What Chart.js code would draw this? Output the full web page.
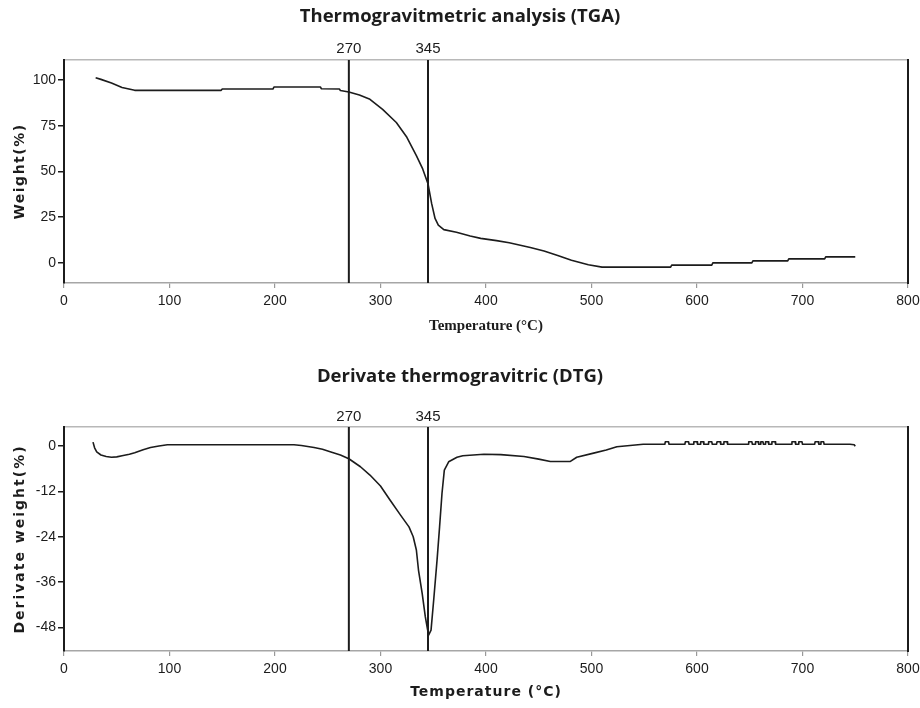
<!DOCTYPE html>
<html>
<head>
<meta charset="utf-8">
<script src="https://cdn.jsdelivr.net/npm/chart.js@4"></script>
<style>
  html, body { margin: 0; padding: 0; background: #fff; }
  .box { position: absolute; left: 0; width: 920px; }
  #tgaBox { top: 0; height: 345px; }
  #dtgBox { top: 345px; height: 363px; }
</style>
</head>
<body>
<div class="box" id="tgaBox"><canvas id="tgaChart"></canvas></div>
<div class="box" id="dtgBox"><canvas id="dtgChart"></canvas></div>
<script>
// axis ticks
const X_TICKS = [0, 100, 200, 300, 400, 500, 600, 700, 800];
const MARKERS = [270, 345];
const TGA_Y_TICKS = [0, 25, 50, 75, 100];
const DTG_Y_TICKS = [0, -12, -24, -36, -48];

// TGA curve (temperature in °C, weight in %)
const TGA_TEMP = [30, 35, 45, 55, 67, 149, 150, 198, 199, 243,
                  244, 261, 262, 270, 280, 290, 302, 315, 325, 334,
                  340, 345, 348.5, 351.7, 354.8, 360, 372, 385, 395, 410,
                  422, 442, 455, 468, 481, 497, 510, 575, 576, 614,
                  615, 652, 653, 686, 687, 721, 722, 750];
const TGA_WEIGHT = [101.3, 100.4, 98.4, 96.0, 94.4, 94.4, 95.1, 95.1, 96.2, 96.2,
                    95.3, 95.1, 94.3, 93.5, 91.8, 89.5, 84.0, 76.8, 68.7, 58.7,
                    51.4, 43.3, 32.4, 24.3, 20.7, 18.2, 16.8, 14.7, 13.4, 12.2,
                    11.0, 8.4, 6.5, 4.1, 1.5, -1.0, -2.3, -2.3, -1.2, -1.2,
                    0.0, 0.0, 1.1, 1.1, 2.2, 2.2, 3.3, 3.3];

// DTG curve (temperature in °C, derivative weight in %)
const DTG_TEMP = [27.5, 29, 31, 35, 40, 45, 50, 55, 62, 67,
                  75, 82, 90, 98, 218, 225, 237, 245, 253, 262,
                  270, 281, 290, 300, 309, 319, 327, 331, 334, 336,
                  339.5, 342.5, 344.7, 345.6, 347.9, 350.4, 353.6, 356, 358.3, 360.5,
                  364.6, 372.5, 378, 398, 414, 436, 450, 461, 480, 486,
                  502, 514, 524, 549,
                  569.5, 570, 573, 573.5,
                  588.5, 589, 592, 592.5,
                  596.5, 597, 600, 600.5,
                  603, 603.5, 606, 606.5,
                  610.5, 611, 614, 614.5,
                  618.5, 619, 622, 622.5,
                  625, 625.5, 628.5, 629,
                  648.5, 649, 652, 652.5,
                  655, 655.5, 658, 658.5,
                  660, 660.5, 662.5, 663,
                  664.5, 665, 667.5, 668,
                  670.5, 671, 674, 674.5,
                  689.5, 690, 693, 693.5,
                  696, 696.5, 699.5, 700,
                  711.5, 712, 715, 715.5,
                  717, 717.5, 720, 720.5,
                  745, 749, 750];
const DTG_VALUE = [1.0, -0.5, -1.6, -2.4, -2.8, -3.0, -2.9, -2.6, -2.2, -1.8,
                   -1.0, -0.4, 0.0, 0.3, 0.3, 0.1, -0.4, -0.9, -1.6, -2.4,
                   -3.4, -5.5, -7.7, -10.6, -14.3, -18.3, -21.4, -24.0, -27.5, -32.8,
                   -39.0, -45.2, -48.7, -50.0, -48.7, -40.8, -30.2, -21.4, -12.5, -6.4,
                   -4.2, -3.0, -2.6, -2.2, -2.3, -2.8, -3.5, -4.1, -4.1, -3.0,
                   -1.9, -1.1, -0.2, 0.45,
                   0.45, 1.1, 1.1, 0.45,
                   0.45, 1.1, 1.1, 0.45,
                   0.45, 1.1, 1.1, 0.45,
                   0.45, 1.1, 1.1, 0.45,
                   0.45, 1.1, 1.1, 0.45,
                   0.45, 1.1, 1.1, 0.45,
                   0.45, 1.1, 1.1, 0.45,
                   0.45, 1.1, 1.1, 0.45,
                   0.45, 1.1, 1.1, 0.45,
                   0.45, 1.1, 1.1, 0.45,
                   0.45, 1.1, 1.1, 0.45,
                   0.45, 1.1, 1.1, 0.45,
                   0.45, 1.1, 1.1, 0.45,
                   0.45, 1.1, 1.1, 0.45,
                   0.45, 1.1, 1.1, 0.45,
                   0.45, 1.1, 1.1, 0.45,
                   0.45, 0.3, -0.1];

const NARROW = '"Liberation Sans Narrow", "Liberation Sans", sans-serif';
const BOLD_SANS = '"DejaVu Sans", sans-serif';
const INK = '#1c1c1c';
const GREY = '#a6a6a6';

// letter spaced axis titles
const spacedTitles = {
  id: 'spacedTitles',
  beforeDraw(chart, args, opts) {
    Object.values(chart.scales).forEach(s => {
      const sp = opts[s.id];
      if (!sp || s._spaced) return;
      const orig = s.drawTitle;
      s.drawTitle = function () {
        const c = this.ctx;
        const prev = c.letterSpacing;
        c.letterSpacing = sp;
        orig.call(this);
        c.letterSpacing = prev;
      };
      s._spaced = true;
    });
  }
};

function makeChart(id, cfg) {
  const points = cfg.xs.map((x, i) => ({ x: x, y: cfg.ys[i] }));
  const markerSets = MARKERS.map(m => ({
    data: [{ x: m, y: cfg.yMin }, { x: m, y: cfg.yMax }],
    borderColor: INK,
    borderWidth: 2,
    pointRadius: 0
  }));

  return new Chart(document.getElementById(id), {
    type: 'line',
    data: {
      datasets: [{
        data: points,
        borderColor: INK,
        borderWidth: 1.6,
        borderJoinStyle: 'round',
        pointRadius: 0,
        tension: 0
      }].concat(markerSets)
    },
    plugins: [spacedTitles],
    options: {
      responsive: true,
      maintainAspectRatio: false,
      animation: false,
      layout: { padding: { left: 0, right: 0, top: 0, bottom: 0 } },
      plugins: {
        legend: { display: false },
        tooltip: { enabled: false },
        title: {
          display: true,
          text: cfg.title,
          color: INK,
          font: { family: '"Open Sans", sans-serif', size: 18.5, weight: 'bold', lineHeight: '20px' },
          padding: { top: cfg.titleTop, bottom: 5 }
        },
        spacedTitles: cfg.spacing
      },
      scales: {
        x: {
          type: 'linear',
          position: 'bottom',
          min: 0,
          max: 800,
          afterBuildTicks: s => { s.ticks = X_TICKS.map(v => ({ value: v })); },
          afterFit: s => { s.height = cfg.xHeight; s.paddingLeft = 0; s.paddingRight = 12; },
          grid: { drawOnChartArea: false, drawTicks: true, tickLength: 5, color: '#999', lineWidth: 1.2 },
          border: { color: GREY, width: 1.5 },
          ticks: { color: INK, padding: 4.5, font: { family: NARROW, size: 14 } },
          title: {
            display: true,
            text: 'Temperature (°C)',
            color: INK,
            font: cfg.xTitleFont,
            padding: { top: 0, bottom: cfg.xTitlePad }
          }
        },
        x2: {
          type: 'linear',
          position: 'top',
          min: 0,
          max: 800,
          afterBuildTicks: s => { s.ticks = MARKERS.map(v => ({ value: v })); },
          afterFit: s => { s.height = cfg.x2Height; s.paddingLeft = 0; s.paddingRight = 0; },
          grid: { display: false, drawTicks: false, tickLength: 0 },
          border: { color: '#b8b8b8', width: 1.5 },
          ticks: { color: INK, padding: cfg.markerPad, font: { family: '"Liberation Sans", sans-serif', size: 15 } }
        },
        y: {
          type: 'linear',
          position: 'left',
          min: cfg.yMin,
          max: cfg.yMax,
          afterBuildTicks: s => { s.ticks = cfg.yTicks.map(v => ({ value: v })); },
          afterFit: s => { s.width = 64; },
          grid: { drawOnChartArea: false, drawTicks: true, tickLength: 6, color: INK, lineWidth: 1.5 },
          border: { color: INK, width: 2 },
          ticks: { color: INK, padding: 2, font: { family: NARROW, size: 14 } },
          title: {
            display: true,
            text: cfg.yTitle,
            color: INK,
            font: { family: BOLD_SANS, size: 14, weight: 'bold' },
            padding: { top: 12, bottom: 0 }
          }
        },
        y2: {
          type: 'linear',
          position: 'right',
          min: cfg.yMin,
          max: cfg.yMax,
          afterFit: s => { s.width = 0; },
          grid: { display: false, drawTicks: false, tickLength: 0 },
          border: { color: INK, width: 2 },
          ticks: { display: false }
        }
      }
    }
  });
}

makeChart('tgaChart', {
  title: 'Thermogravitmetric analysis (TGA)',
  titleTop: 7,
  xs: TGA_TEMP,
  ys: TGA_WEIGHT,
  yMin: -11,
  yMax: 111,
  yTicks: TGA_Y_TICKS,
  yTitle: 'Weight(%)',
  xHeight: 62,
  x2Height: 28,
  markerPad: 2,
  xTitleFont: { family: '"Liberation Serif", serif', size: 15, weight: 'bold' },
  xTitlePad: 10,
  spacing: { y: '1.5px' }
});

makeChart('dtgChart', {
  title: 'Derivate thermogravitric (DTG)',
  titleTop: 22,
  xs: DTG_TEMP,
  ys: DTG_VALUE,
  yMin: -54.2,
  yMax: 5,
  yTicks: DTG_Y_TICKS,
  yTitle: 'Derivate weight(%)',
  xHeight: 57,
  x2Height: 35,
  markerPad: 1,
  xTitleFont: { family: BOLD_SANS, size: 14, weight: 'bold' },
  xTitlePad: 7,
  spacing: { y: '2px', x: '1px' }
});
</script>
</body>
</html>
